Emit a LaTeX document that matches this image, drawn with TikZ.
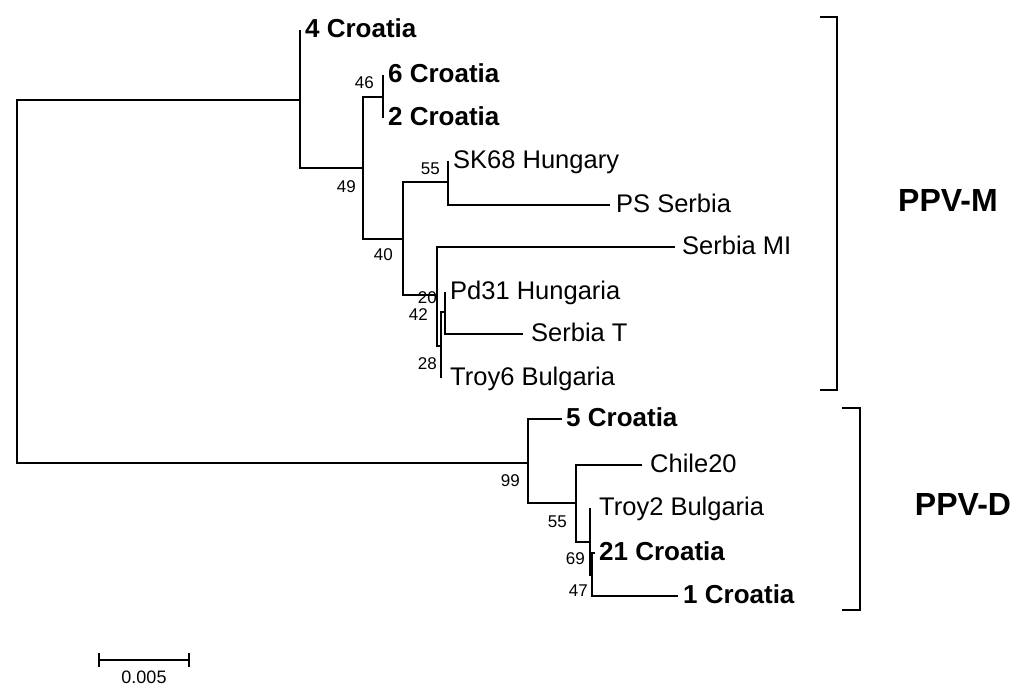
\documentclass[tikz,border=0pt]{standalone}
\usepackage{fontspec}
\setmainfont{Liberation Sans}
\usepackage{tikz}
\usetikzlibrary{positioning}
\usetikzlibrary{arrows.meta}

\tikzset{
  br/.style={line width=2.3pt},
  leaf/.style={inner sep=0pt, font=\fontsize{25.5}{29}\selectfont, text height=18.3pt, text depth=0pt, yshift=2pt},
  leafb/.style={leaf, font=\fontsize{26}{30}\selectfont\bfseries, text height=18.6pt},
  boot/.style={inner sep=0pt, font=\fontsize{17}{19}\selectfont, text height=12pt, text depth=0pt},
  grp/.style={inner sep=0pt, font=\fontsize{32}{37}\selectfont\bfseries},
  scl/.style={inner sep=0pt, font=\fontsize{18}{21}\selectfont, text height=13pt, text depth=0pt},
}

\begin{document}
\begin{tikzpicture}[x=1pt, y=-1pt]
    \useasboundingbox (0,0) rectangle (1017,686);
    \coordinate (r) at (17,281); \coordinate (nM) at (300,100); \coordinate
    (nD) at (528,463); \coordinate (n49) at (363,168); \coordinate (n46) at
    (383,97); \coordinate (n40) at (403,239); \coordinate (n55) at (448,182);
    \coordinate (nlow) at (437,295); \coordinate (n28) at (441,346);
    \coordinate (n20) at (445,312); \coordinate (n55b) at (576,503);
    \coordinate (n69) at (590,542); \coordinate (n47) at (592,575);
    \coordinate (t0) at (300,30); \coordinate (t1) at (383,75); \coordinate
    (t2) at (383,118); \coordinate (t3) at (448,161); \coordinate (t4) at
    (610,205); \coordinate (t5) at (675,247); \coordinate (t6) at (445,292);
    \coordinate (t7) at (523,334); \coordinate (t8) at (441,378); \coordinate
    (t9) at (562,419); \coordinate (t10) at (642,465); \coordinate (t11) at
    (590,508); \coordinate (t12) at (595,553); \coordinate (t13) at (678,596);
    \foreach \p/\c in {r/nM, r/nD, nM/t0, nM/n49, n49/n46, n49/n40, n46/t1,
      n46/t2, n40/n55, n40/nlow, n55/t3, n55/t4, nlow/t5, nlow/n28, n28/n20,
      n28/t8, n20/t6, n20/t7, nD/t9, nD/n55b, n55b/t10, n55b/n69, n69/t11,
      n69/n47, n47/t12, n47/t13} \draw[br] (\p) |- (\c);
    \node[leafb, right=5pt of t0] (l0) {4 Croatia}; \node[leafb, right=5pt of
    t1] (l1) {6 Croatia}; \node[leafb, right=5pt of t2] (l2) {2 Croatia};
    \node[leaf, right=5pt of t3] (l3) {SK68 Hungary}; \node[leaf, right=6pt of
    t4] (l4) {PS Serbia}; \node[leaf, right=7pt of t5] (l5) {Serbia MI};
    \node[leaf, right=5pt of t6] (l6) {Pd31 Hungaria}; \node[leaf, right=8pt of
    t7] (l7) {Serbia T}; \node[leaf, right=9pt of t8] (l8) {Troy6 Bulgaria};
    \node[leafb, right=4pt of t9] (l9) {5 Croatia}; \node[leaf, right=8pt of
    t10] (l10) {Chile20}; \node[leaf, right=9pt of t11] (l11) {Troy2
    Bulgaria}; \node[leafb, right=4pt of t12] (l12) {21 Croatia};
    \node[leafb, right=5pt of t13] (l13) {1 Croatia};
    \node[boot, left=9pt of n46, yshift=15pt] (b0) {46}; \node[boot,
    left=7pt of n49, yshift=-18pt] (b1) {49}; \node[boot, left=8pt of n55,
    yshift=14pt] (b2) {55}; \node[boot, left=10pt of n40, yshift=-15pt] (b3)
    {40}; \node[boot, left=8pt of n20, yshift=15pt] (b4) {20}; \node[boot,
    left=9pt of nlow, yshift=-19pt] (b5) {42}; \node[boot, left=4pt of n28,
    yshift=-17pt] (b6) {28}; \node[boot, left=8pt of nD, yshift=-17pt] (b7)
    {99}; \node[boot, left=9pt of n55b, yshift=-18pt] (b8) {55}; \node[boot,
    left=5pt of n69, yshift=-16pt] (b9) {69}; \node[boot, left=4pt of n47,
    yshift=-15pt] (b10) {47};
    \coordinate (bM0) at (820,17); \coordinate (bM1) at (820,390);
    \coordinate (bD0) at (842,408); \coordinate (bD1) at (842,610);
    \draw[br] (bM0) -- ++(17,0) |- (bM1); \draw[br] (bD0) -- ++(18,0) |-
    (bD1); \node[grp] (gM) at (948,200) {PPV-M}; \node[grp] (gD) at (963,504)
    {PPV-D};
    \coordinate (s0) at (98,660); \coordinate (s1) at (190,660); \coordinate
    (sm) at (144,660); \draw[br, {Bar[width=14pt]}-{Bar[width=14pt]}] (s0) --
    (s1); \node[scl, below=10pt of sm] (sl) {0.005};
  \end{tikzpicture}
\end{document}
